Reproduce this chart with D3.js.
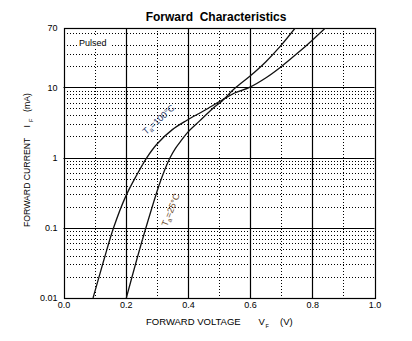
<!DOCTYPE html>
<html><head><meta charset="utf-8">
<script src="https://cdn.jsdelivr.net/npm/d3@7"></script>
<style>html,body{margin:0;padding:0;background:#fff;} svg{display:block;font-family:"Liberation Sans",Arial,sans-serif;}</style>
</head><body>
<svg id="chart" width="412" height="341"></svg>
<script>
// ---- data ----
const volts100 = [0.095, 0.13, 0.161, 0.2, 0.235, 0.268, 0.3, 0.35, 0.397, 0.45, 0.51, 0.55, 0.598, 0.65, 0.7, 0.75, 0.8, 0.842];
const current100 = [0.01, 0.035, 0.1, 0.28, 0.56, 1, 1.55, 2.5, 3.4, 4.6, 6.6, 8.3, 10, 13.6, 19.7, 30, 47, 70];
const volts25 = [0.202, 0.233, 0.265, 0.307, 0.325, 0.343, 0.36, 0.38, 0.4, 0.437, 0.48, 0.51, 0.55, 0.6, 0.65, 0.696, 0.745];
const current25 = [0.01, 0.032, 0.1, 0.40, 0.66, 1, 1.35, 1.78, 2.3, 3.3, 5.0, 6.4, 9.6, 14.5, 23, 38, 70];
const xTicks = [0, 0.2, 0.4, 0.6, 0.8, 1.0];
const xTickLabels = ["0.0", "0.2", "0.4", "0.6", "0.8", "1.0"];
const xMinor = [0.1, 0.3, 0.5, 0.7, 0.9];
const yTicks = [0.01, 0.1, 1, 10, 70];
const yTickLabels = ["0.01", "0.1", "1", "10", "70"];
const yMajorLines = [0.1, 1, 10];
const yMinor = [0.02,0.03,0.04,0.05,0.06,0.07,0.08,0.09, 0.2,0.3,0.4,0.5,0.6,0.7,0.8,0.9, 2,3,4,5,6,7,8,9, 20,30,40,60];

// ---- layout ----
const L = 63.5, R = 374.5, T = 28, B = 298;
const svg = d3.select("#chart");
const x = d3.scaleLinear().domain([0, 1]).range([L, R]);
const y = d3.scaleLog().domain([0.01, 70]).range([B, T]);
const px = v => Math.round(x(v)) + 0.5;
const py = v => Math.round(y(v)) + 0.5;

const g = svg.append("g");
// minor dotted grid
g.selectAll("line.ymin").data(yMinor).join("line")
  .attr("x1", L).attr("x2", R).attr("y1", d => py(d)).attr("y2", d => py(d))
  .attr("stroke", "#000").attr("stroke-width", 1).attr("stroke-dasharray", "1,2")
  .attr("shape-rendering", "crispEdges");
g.selectAll("line.xmin").data(xMinor).join("line")
  .attr("y1", T).attr("y2", B).attr("x1", d => px(d)).attr("x2", d => px(d))
  .attr("stroke", "#000").attr("stroke-width", 1).attr("stroke-dasharray", "1,2")
  .attr("shape-rendering", "crispEdges");

// "Pulsed" label with white background
g.append("rect").attr("x", 77).attr("y", 37).attr("width", 33).attr("height", 11).attr("fill", "#fff");
g.append("text").attr("x", 79).attr("y", 46).attr("font-size", 9).attr("fill", "#000").text("Pulsed");

// major grid
g.selectAll("line.ymaj").data(yMajorLines).join("line")
  .attr("x1", L).attr("x2", R).attr("y1", d => py(d)).attr("y2", d => py(d))
  .attr("stroke", "#000").attr("stroke-width", 1.2);
g.selectAll("line.xmaj").data(xTicks.slice(1, -1)).join("line")
  .attr("y1", T).attr("y2", B).attr("x1", d => px(d)).attr("x2", d => px(d))
  .attr("stroke", "#000").attr("stroke-width", 1.2);
// frame
g.append("rect").attr("x", px(0)).attr("y", py(70)).attr("width", px(1) - px(0)).attr("height", py(0.01) - py(70))
  .attr("fill", "none").attr("stroke", "#000").attr("stroke-width", 1.2);

// curves
svg.append("clipPath").attr("id", "clip").append("rect").attr("x", L).attr("y", T).attr("width", R - L).attr("height", B - T);
const line = d3.line().x(d => x(d[0])).y(d => y(d[1])).curve(d3.curveCatmullRom.alpha(0.5));
const s100 = volts100.map((v, i) => [v, current100[i]]);
const s25 = volts25.map((v, i) => [v, current25[i]]);
[s100, s25].forEach(s => {
  svg.append("path").attr("d", line(s)).attr("fill", "none").attr("stroke", "#111")
    .attr("stroke-width", 1.3).attr("clip-path", "url(#clip)");
});

// curve labels
function tempLabel(tx, ty, rot, temp, color) {
  const t = svg.append("text").attr("transform", `translate(${tx},${ty}) rotate(${rot})`)
    .attr("font-size", 9).attr("fill", color);
  t.append("tspan").text("T");
  t.append("tspan").attr("font-size", 6.5).attr("dy", 2).text("a");
  t.append("tspan").attr("dy", -2).text("=" + temp + "°C");
}
tempLabel(146, 135, -42, 100, "#2b3b6b");
tempLabel(167, 227, -68, 25, "#6b4a2b");

// axes tick labels
const xAxis = d3.axisBottom(x).tickValues(xTicks).tickSize(0).tickPadding(0)
  .tickFormat((d, i) => xTickLabels[i]);
const xa = svg.append("g").attr("transform", `translate(0,${B + 2})`).call(xAxis);
xa.select(".domain").remove();
xa.selectAll("text").attr("font-size", 9).attr("font-family", "Liberation Sans, Arial, sans-serif").attr("fill", "#000").attr("dy", "0.85em");

const yAxis = d3.axisLeft(y).tickValues(yTicks).tickSize(0).tickPadding(0)
  .tickFormat((d, i) => yTickLabels[i]);
const ya = svg.append("g").attr("transform", `translate(${57.5},0)`).call(yAxis);
ya.select(".domain").remove();
ya.selectAll("text").attr("font-size", 9).attr("font-family", "Liberation Sans, Arial, sans-serif").attr("fill", "#000");

// title
svg.append("text").attr("x", 216).attr("y", 21).attr("text-anchor", "middle")
  .attr("font-size", 12).attr("font-weight", "bold").attr("fill", "#000").text("Forward\u00a0\u00a0Characteristics");

// x axis title
const xt = svg.append("g").attr("font-size", 9.5).attr("fill", "#000");
xt.append("text").attr("x", 146).attr("y", 325).text("FORWARD VOLTAGE");
xt.append("text").attr("x", 258.5).attr("y", 325).text("V");
xt.append("text").attr("x", 265.5).attr("y", 328).attr("font-size", 5.5).text("F");
xt.append("text").attr("x", 280).attr("y", 325).text("(V)");

// y axis title
const yt = svg.append("g").attr("font-size", 8.7).attr("fill", "#000");
yt.append("text").attr("transform", "translate(30,227) rotate(-90)").text("FORWARD CURRENT");
yt.append("text").attr("transform", "translate(30,127.5) rotate(-90)").text("I");
yt.append("text").attr("transform", "translate(33,122) rotate(-90)").attr("font-size", 5.5).text("F");
yt.append("text").attr("transform", "translate(30,112) rotate(-90)").text("(mA)");
</script>
</body></html>
